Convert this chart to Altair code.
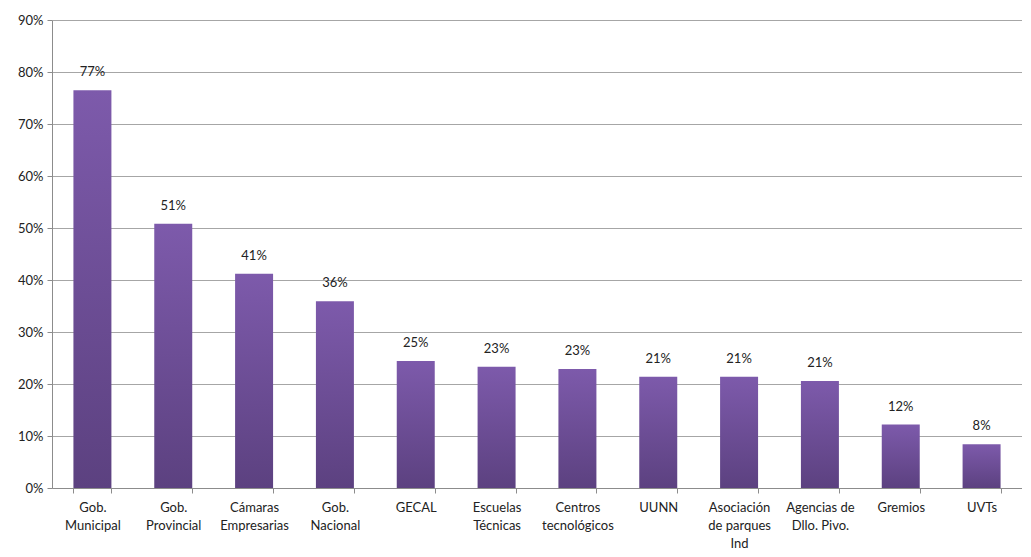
import altair as alt
import pandas as pd

categories = ["Gob.|Municipal", "Gob.|Provincial", "Cámaras|Empresarias", "Gob.|Nacional",
              "GECAL", "Escuelas|Técnicas", "Centros|tecnológicos", "UUNN",
              "Asociación|de parques|Ind", "Agencias de|Dllo. Pivo.", "Gremios", "UVTs"]
values = [0.765, 0.508, 0.412, 0.359, 0.244, 0.233, 0.229, 0.214, 0.214, 0.206, 0.122, 0.084]
labels = ["77%", "51%", "41%", "36%", "25%", "23%", "23%", "21%", "21%", "21%", "12%", "8%"]

df = pd.DataFrame({"cat": categories, "val": values, "lab": labels})

FONT = "Lato"
grad = alt.Gradient(
    gradient="linear",
    x1=0, x2=0, y1=0, y2=1,
    stops=[alt.GradientStop(color="#7d5aab", offset=0),
           alt.GradientStop(color="#5c4180", offset=1)],
)

x = alt.X("cat:N", sort=categories, title=None,
          scale=alt.Scale(paddingInner=0.53, paddingOuter=0.265),
          axis=alt.Axis(labelAngle=0, labelExpr="split(datum.label, '|')",
                        tickBand="extent", labelFont=FONT, labelFontSize=13,
                        labelColor="#222222", domainColor="#8c8c8c", tickColor="#8c8c8c",
                        tickSize=5, labelPadding=8, grid=False, labelLineHeight=18))
y = alt.Y("val:Q", title=None,
          scale=alt.Scale(domain=[0, 0.9], nice=False),
          axis=alt.Axis(format=".0%", values=[i / 10 for i in range(10)],
                        labelFont=FONT, labelFontSize=13, labelColor="#222222",
                        domainColor="#8c8c8c", tickColor="#8c8c8c", tickSize=5,
                        gridColor="#a6a6a6", gridWidth=1, labelPadding=4))

bars = alt.Chart(df).mark_bar(color=grad).encode(x=x, y=y)
text = alt.Chart(df).mark_text(dy=-18, font=FONT, fontSize=13, color="#222222").encode(
    x=alt.X("cat:N", sort=categories), y="val:Q", text="lab:N")

chart = (bars + text).properties(
    width=970, height=468,
    autosize=alt.AutoSizeParams(type="none"),
    padding={"left": 44, "top": 12, "right": 0, "bottom": 61},
).configure_view(stroke=None)

chart.save("out.html", embed_options={"renderer": "svg", "actions": False})
